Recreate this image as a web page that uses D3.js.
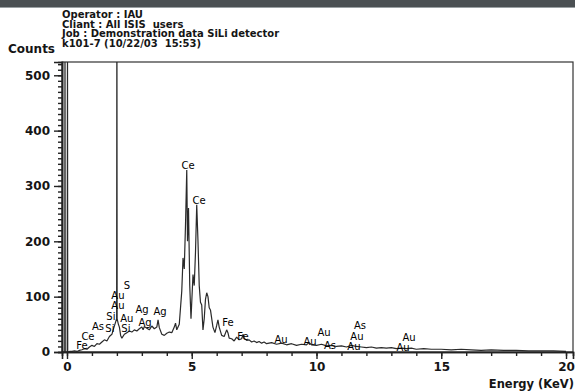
<!DOCTYPE html>
<html>
<head>
<meta charset="utf-8">
<script src="https://cdn.jsdelivr.net/npm/d3@7"></script>
<style>
	body { margin: 0; background: #fff; }
	svg { display: block; font-family: 'DejaVu Sans', sans-serif; }
</style>
</head>
<body>
<div id="chart"></div>
<script>
// header lines of the printout
var headerLines = ['Operator : IAU', 'Cliant : All ISIS  users', 'Job : Demonstration data SiLi detector', 'k101-7 (10/22/03  15:53)'];

// spectrum, energy in keV and counts
var energy = [-0.2, -0.09, -0.08, -0.07, 0.01, 0.02, 0.03, 0.1, 0.2, 0.3, 0.4, 0.5, 0.6, 0.7, 0.8, 0.9, 1.0, 1.1, 1.2, 1.3, 1.4, 1.5, 1.6, 1.7, 1.8, 1.85, 1.92, 1.99, 2.0, 2.01, 2.06, 2.1, 2.15, 2.2, 2.3, 2.4, 2.5, 2.6, 2.7, 2.8, 2.9, 3.0, 3.05, 3.1, 3.2, 3.3, 3.4, 3.5, 3.6, 3.65, 3.7, 3.8, 3.9, 4.0, 4.1, 4.2, 4.3, 4.35, 4.4, 4.5, 4.6, 4.65, 4.7, 4.75, 4.8, 4.83, 4.87, 4.92, 4.97, 5.0, 5.05, 5.1, 5.15, 5.2, 5.25, 5.3, 5.35, 5.4, 5.45, 5.5, 5.55, 5.6, 5.65, 5.7, 5.75, 5.85, 5.93, 6.0, 6.05, 6.1, 6.2, 6.3, 6.4, 6.45, 6.5, 6.6, 6.7, 6.8, 6.9, 7.0, 7.06, 7.1, 7.2, 7.3, 7.4, 7.5, 7.6, 7.7, 7.8, 7.9, 8.0, 8.2, 8.4, 8.6, 8.8, 9.0, 9.2, 9.4, 9.6, 9.7, 9.8, 10.0, 10.2, 10.4, 10.6, 10.8, 11.0, 11.2, 11.4, 11.6, 11.8, 12.0, 12.2, 12.4, 12.6, 12.8, 13.0, 13.2, 13.4, 13.6, 13.8, 14.0, 14.3, 14.6, 15.0, 15.4, 15.8, 16.2, 16.6, 17.0, 17.5, 18.0, 18.5, 19.0, 19.5, 20.0];
var counts = [0, 0, 600, 0, 0, 600, 0, 1, 1, 2, 1, 3, 4, 6, 5, 9, 12, 10, 15, 14, 18, 22, 20, 28, 32, 40, 50, 60, 700, 60, 50, 45, 30, 25, 32, 35, 38, 36, 40, 38, 42, 45, 40, 46, 43, 40, 47, 42, 45, 58, 44, 32, 30, 34, 36, 35, 45, 52, 40, 50, 110, 170, 150, 230, 329, 200, 260, 120, 60, 90, 140, 120, 180, 266, 200, 120, 90, 85, 40, 60, 95, 107, 100, 80, 76, 45, 35, 48, 58, 45, 30, 28, 40, 35, 25, 24, 20, 27, 22, 24, 32, 25, 21, 22, 18, 20, 17, 19, 16, 18, 15, 17, 14, 16, 13, 15, 12, 14, 13, 17, 13, 12, 14, 11, 12, 10, 11, 9, 12, 10, 9, 8, 9, 7, 8, 7, 8, 6, 7, 6, 7, 5, 6, 5, 5, 4, 5, 4, 3, 4, 3, 3, 2, 2, 2, 1];

// element labels, placed in data units
var peakNames = ['S', 'Au', 'Au', 'Si', 'Au', 'Si', 'Si', 'As', 'Ce', 'Fe', 'Ag', 'Ag', 'Ag', 'Ce', 'Ce', 'Fe', 'Fe', 'Au', 'Au', 'Au', 'As', 'As', 'Au', 'Au', 'Au', 'Au'];
var peakEnergy = [2.40, 2.04, 2.04, 1.76, 2.40, 1.72, 2.36, 1.24, 0.84, 0.60, 3.01, 3.13, 3.73, 4.85, 5.29, 6.45, 7.05, 8.58, 9.74, 10.30, 10.54, 11.74, 11.62, 11.50, 13.71, 13.47];
var peakCount = [114, 96, 78, 58, 54, 36, 36, 40, 22, 5, 70, 47, 67, 331, 268, 47, 22, 16, 13, 29, 5, 42, 22, 4, 20, 1];

var yMajor = [0, 100, 200, 300, 400, 500];
var xMajor = [0, 5, 10, 15, 20];

var W = 575, H = 391;
var plot = { left: 62, right: 573, top: 62, bottom: 352 };

var svg = d3.select('#chart').append('svg')
	.attr('width', W)
	.attr('height', H);

// dark strip at the top of the scan
svg.append('rect').attr('x', 0).attr('y', 0).attr('width', W).attr('height', 7).attr('fill', '#4b5053');
svg.append('line').attr('x1', 0).attr('x2', W).attr('y1', 7.5).attr('y2', 7.5).attr('stroke', '#9aa0a3').attr('stroke-width', 1);

var x = d3.scaleLinear().domain([-0.2, 20.28]).range([plot.left, plot.right]);
var y = d3.scaleLinear().domain([0, 524]).range([plot.bottom, plot.top]);

// header
svg.append('g').selectAll('text')
	.data(headerLines)
	.enter().append('text')
	.attr('x', 62)
	.attr('y', function(d, i) { return 18 + i * 9.5; })
	.style('font-size', '10px')
	.style('font-weight', 'bold')
	.style('white-space', 'pre')
	.attr('fill', '#151515')
	.text(function(d) { return d; });

svg.append('text')
	.attr('x', 8).attr('y', 53)
	.style('font-size', '12px')
	.style('font-weight', 'bold')
	.attr('fill', '#151515')
	.text('Counts');

// frame
svg.append('rect')
	.attr('x', plot.left).attr('y', plot.top)
	.attr('width', plot.right - plot.left).attr('height', plot.bottom - plot.top)
	.attr('fill', 'none').attr('stroke', '#333').attr('stroke-width', 1.2);

// spectrum
svg.append('clipPath').attr('id', 'clip')
	.append('rect')
	.attr('x', plot.left).attr('y', plot.top)
	.attr('width', plot.right - plot.left).attr('height', plot.bottom - plot.top);

var line = d3.line()
	.x(function(d, i) { return x(energy[i]); })
	.y(function(d) { return y(d); });

svg.append('path')
	.datum(counts)
	.attr('clip-path', 'url(#clip)')
	.attr('fill', 'none')
	.attr('stroke', '#2a2a2a')
	.attr('stroke-width', 1.2)
	.attr('stroke-linejoin', 'bevel')
	.attr('d', line);

// axes
var yMinor = svg.append('g').attr('transform', 'translate(' + plot.left + ',0)')
	.call(d3.axisLeft(y).tickValues(d3.range(0, 521, 10)).tickSize(4).tickFormat(''));
var yAxis = svg.append('g').attr('transform', 'translate(' + plot.left + ',0)')
	.call(d3.axisLeft(y).tickValues(yMajor).tickSize(8).tickPadding(4));
var xMinor = svg.append('g').attr('transform', 'translate(0,' + plot.bottom + ')')
	.call(d3.axisBottom(x).tickValues(d3.range(0, 21, 1)).tickSize(4).tickFormat(''));
var xAxis = svg.append('g').attr('transform', 'translate(0,' + plot.bottom + ')')
	.call(d3.axisBottom(x).tickValues(xMajor).tickSize(7).tickPadding(3));

[yMinor, yAxis, xMinor, xAxis].forEach(function(g) {
	g.select('.domain').attr('stroke', '#222').attr('stroke-width', 1.6);
	g.selectAll('.tick line').attr('stroke', '#222').attr('stroke-width', 1.4);
	g.selectAll('.tick text')
		.attr('fill', '#151515')
		.style('font-size', '12px')
		.style('font-weight', 'bold')
		.style('font-family', "'DejaVu Sans', sans-serif");
});

svg.append('text')
	.attr('x', 574).attr('y', 388)
	.attr('text-anchor', 'end')
	.style('font-size', '11.5px')
	.style('font-weight', 'bold')
	.attr('fill', '#151515')
	.text('Energy (KeV)');

// peak labels
svg.append('g').selectAll('text')
	.data(peakNames)
	.enter().append('text')
	.attr('x', function(d, i) { return x(peakEnergy[i]); })
	.attr('y', function(d, i) { return y(peakCount[i]); })
	.attr('text-anchor', 'middle')
	.style('font-size', '10px')
	.style('font-family', "'DejaVu Sans', sans-serif")
	.attr('fill', '#000')
	.text(function(d) { return d; });
</script>
</body>
</html>
